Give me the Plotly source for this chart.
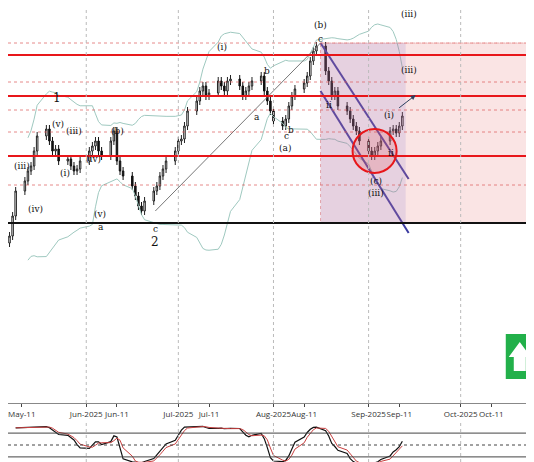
import pandas as pd, numpy as np
import plotly.graph_objects as go
from plotly.subplots import make_subplots

closes = [165,185,210,220,230, 235,250,265,272,260, 250,252,240,242,235, 230,232,240,250,255,
          260,250,245,260,270, 240,230,225,215,205, 195,190,200,210,215, 225,232,240,250,260, 262,
          275,290,300,310,315, 305,308,320,315,310, 320,322,315,305,310, 315,320,325,310,300, 290,280,275,
          282,295,305,312,318, 325,340,350,355,330, 320,305,310,295,290, 282,275,270,260,250, 245,
          250,255,260,270,272, 268,275,285]
dates = pd.bdate_range("2025-05-07", periods=len(closes))
opens = [158] + closes[:-1]
highs = [max(o, c) + 4 for o, c in zip(opens, closes)]
lows = [min(o, c) - 4 for o, c in zip(opens, closes)]
red_levels = [346, 305, 245]
black_level = 178
pink_levels = [358, 319, 291, 269, 216]

s = pd.Series(closes, index=dates)
mid = s.rolling(20, min_periods=5).mean(); sd = s.rolling(20, min_periods=5).std()
hh = pd.Series(highs, index=dates).rolling(14, min_periods=3).max()
ll = pd.Series(lows, index=dates).rolling(14, min_periods=3).min()
k = ((s - ll) / (hh - ll) * 100).rolling(3, min_periods=1).mean()
d = k.rolling(3, min_periods=1).mean()

fig = make_subplots(rows=2, cols=1)
x0 = pd.Timestamp("2025-05-06 12:00"); x1 = pd.Timestamp("2025-10-27 12:00")
def px(p):  # pixel -> date
    return pd.Timestamp("2025-08-01") + pd.Timedelta(days=(p - 273) / 3.065)
def py(p):  # pixel -> price
    return 400 - p

fig.add_shape(type="rect", x0=px(320), x1=x1, y0=black_level, y1=358, fillcolor="rgba(230,120,120,0.2)", line=dict(color="rgba(220,100,100,0.5)", width=1, dash="dot"), row=1, col=1)
fig.add_shape(type="rect", x0=px(320), x1=px(405), y0=black_level, y1=358, fillcolor="rgba(120,100,200,0.15)", line_width=0, row=1, col=1)
for lv in pink_levels:
    fig.add_hline(y=lv, line=dict(color="rgba(220,90,90,0.7)", width=1, dash="dot"), row=1, col=1)
for lv in red_levels:
    fig.add_hline(y=lv, line=dict(color="#e8161a", width=2), row=1, col=1)
fig.add_hline(y=black_level, line=dict(color="#111", width=2), row=1, col=1)
fig.add_shape(type="rect", x0=px(505), x1=x1, y0=py(378), y1=py(333), fillcolor="#22b04a", line_width=0, layer="below", row=1, col=1)

fig.add_trace(go.Scatter(x=dates, y=mid + 2.3 * sd, line=dict(color="#9fc9c0", width=1), hoverinfo="skip"), 1, 1)
fig.add_trace(go.Scatter(x=dates, y=mid - 2.3 * sd, line=dict(color="#9fc9c0", width=1), hoverinfo="skip"), 1, 1)
fig.add_trace(go.Candlestick(x=dates, open=opens, high=highs, low=lows, close=closes,
    increasing=dict(fillcolor="white", line=dict(color="#222", width=1)),
    decreasing=dict(fillcolor="#111", line=dict(color="#111", width=1)), whiskerwidth=0), 1, 1)
fig.add_trace(go.Scatter(x=[px(320), px(408)], y=[358, 222], mode="lines", line=dict(color="#3a3aa0", width=2)), 1, 1)
fig.add_trace(go.Scatter(x=[px(320), px(408)], y=[310, 168], mode="lines", line=dict(color="#3a3aa0", width=2)), 1, 1)
fig.add_trace(go.Scatter(x=[px(155), px(320)], y=[190, 358], mode="lines", line=dict(color="#777", width=1)), 1, 1)
fig.add_annotation(x=px(415), y=306, ax=px(397), ay=292, axref="x", ayref="y", xref="x", yref="y", showarrow=True, arrowhead=2, arrowsize=1, arrowwidth=1, text="")
fig.add_shape(type="circle", x0=px(352), x1=px(396), y0=228, y1=272, line=dict(color="#e8161a", width=2), fillcolor="rgba(230,80,80,0.2)", row=1, col=1)
fig.add_trace(go.Scatter(x=[px(513), px(525), px(525), px(530), px(519), px(508), px(513), px(513)],
                         y=[py(370), py(370), py(356), py(356), py(341), py(356), py(356), py(370)],
                         fill="toself", fillcolor="white", mode="lines", line=dict(width=0, color="white"), hoverinfo="skip"), 1, 1)

fig.add_trace(go.Scatter(x=dates, y=k, line=dict(color="#111", width=1.2)), 2, 1)
fig.add_trace(go.Scatter(x=dates, y=d, line=dict(color="#c84040", width=1)), 2, 1)
for lv, dash in [(80, "solid"), (50, "dot"), (20, "solid")]:
    fig.add_hline(y=lv, line=dict(color="#444", width=1, dash=dash), row=2, col=1)

labels = [("1",57,97),("(v)",58,123),("(iii)",22,165),("(iv)",35,208),("(ii)",7,262),("(iii)",74,130),("(i)",65,172),
          ("(iv)",93,158),("(v)",100,213),("a",101,226),("(b)",117,130),("c",155,228),("2",155,241),("(i)",222,46),
          ("a",257,116),("b",267,70),("c",286,135),("b",291,129),("(a)",285,147),("(b)",320,24),("c",320,38),
          ("ii",328,104),("(i)",388,114),("ii",390,152),("(c)",375,180),("(iii)",375,192),("(iii)",408,69),
          ("(iii)",408,13),("3",443,3)]
for t, xx, yy in labels:
    big = t in ("1", "2", "3")
    fig.add_annotation(x=px(xx), y=py(yy), xref="x", yref="y", text=t, showarrow=False,
                       font=dict(size=12 if big else 9, color="#111", family="DejaVu Serif"))

ticks = ["2025-05-01","2025-05-11","2025-06-01","2025-06-11","2025-07-01","2025-07-11","2025-08-01","2025-08-11","2025-09-01","2025-09-11","2025-10-01","2025-10-11"]
tlabels = ["May-2025","May-11","Jun-2025","Jun-11","Jul-2025","Jul-11","Aug-2025","Aug-11","Sep-2025","Sep-11","Oct-2025","Oct-11"]
for r in (1, 2):
    fig.update_xaxes(range=[x0, x1], showgrid=False, zeroline=False, rangeslider_visible=False,
                     tickvals=ticks, ticktext=tlabels, showticklabels=(r == 1), tickangle=0,
                     tickfont=dict(size=8, color="#333"), ticks="outside", ticklen=3, showline=True, linecolor="#888", row=r, col=1)
    for m in ["2025-06-01","2025-07-01","2025-08-01","2025-09-01","2025-10-01"]:
        fig.add_vline(x=m, line=dict(color="#bbb", width=1, dash="dot"), row=r, col=1)
fig.update_yaxes(domain=[1-395/460, 1], range=[-2, 393], showticklabels=False, showgrid=False, zeroline=False, row=1, col=1)
fig.update_yaxes(domain=[0, 46/460], range=[-8, 108], showticklabels=False, showgrid=False, zeroline=False, showline=True, linecolor="#888", mirror=True, row=2, col=1)
fig.update_layout(width=534, height=462, margin=dict(l=0, r=0, t=0, b=2), showlegend=False,
                  plot_bgcolor="white", paper_bgcolor="white")
fig.write_html("out.html")
